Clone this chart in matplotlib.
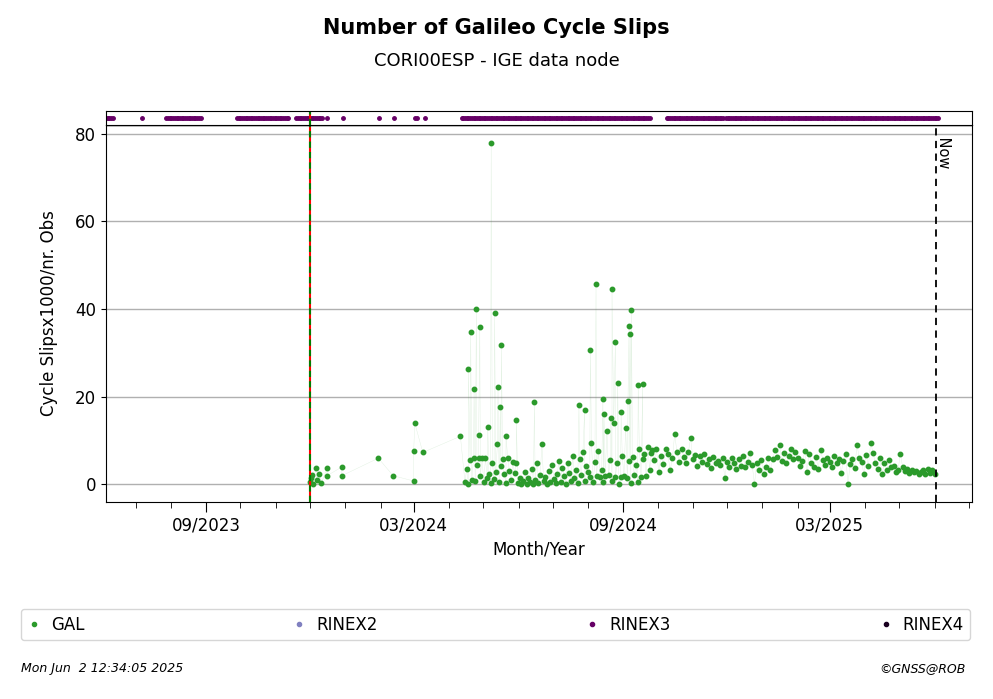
import numpy as np
import matplotlib
matplotlib.use("Agg")
import matplotlib.pyplot as plt
import matplotlib.dates as mdates
from matplotlib.lines import Line2D

start = np.datetime64("2023-12-01")
now = np.datetime64("2025-06-02")

early_days = [0, 1, 2, 3, 5, 6, 8, 10, 15, 15, 28, 28, 60, 73, 91, 91, 92, 99, 132]
early_vals = [0.5, 1.5, 2.2, 0.2, 3.8, 1.0, 2.5, 0.3, 3.7, 2.0, 4.0, 2.0, 6.0, 2.0, 0.8, 7.7, 14.0, 7.3, 11.0]

spike_days = [139, 141, 144, 146, 148, 149, 156, 159, 162, 165, 167, 168, 172, 181, 197,
              236, 241, 246, 251, 257, 258, 264, 265, 268, 270, 273, 279, 280, 281, 282, 288, 292]
spike_vals = [26.4, 34.8, 21.8, 40.0, 11.4, 35.9, 13.2, 78.0, 39.1, 22.3, 17.7, 31.8, 11.1, 14.8, 18.9,
              18.1, 17.0, 30.7, 45.7, 19.5, 16.0, 15.2, 44.5, 32.5, 23.2, 16.6, 19.0, 36.1, 34.3, 39.8, 22.6, 23.0]

base_a_vals = [0.5, 3.5, 0.2, 5.5, 1.0, 6.0, 0.8, 4.5, 6.0, 2.0, 6.0, 0.5, 6.0, 1.5, 2.5, 0.3,
               5.0, 1.2, 2.8, 9.2, 0.6, 4.2, 5.8, 2.3, 0.4, 6.0, 3.1, 1.0, 5.2, 2.6, 4.8, 0.3,
               1.5, 0.2, 0.9, 2.8, 0.1, 1.4, 0.5, 3.6, 0.2, 1.0, 5.0, 0.4, 2.2, 9.2, 0.8, 1.8,
               0.1, 3.0, 0.5, 4.4, 1.2, 0.3, 2.5, 5.4, 0.6, 3.8, 1.9, 0.2, 4.9, 2.7, 0.9, 6.6,
               1.5, 3.3, 0.4, 5.8, 2.1, 7.4, 0.8, 4.2, 2.8, 1.6, 9.4, 0.6, 5.2, 2.0, 7.6, 1.8,
               3.4, 0.5, 1.9, 12.3, 2.2, 5.5, 0.8, 14.0, 1.8, 4.8, 0.2, 1.6, 6.6, 2.0, 12.9, 1.4,
               5.4, 0.4, 6.2, 2.2, 4.4, 0.6, 8.2, 1.8, 5.8, 7.0, 2.0, 8.6, 3.4, 7.2]
base_c_vals = [7.8, 5.5, 8.0, 2.8, 6.5, 4.6, 8.2, 7.0, 3.2, 6.0, 11.5, 7.4, 5.2, 8.1, 6.2, 4.8,
               7.5, 10.5, 5.8, 6.8, 4.2, 6.4, 5.1, 7.0, 4.6, 5.9, 3.8, 6.2, 4.9, 5.4, 4.4, 6.0,
               1.5, 5.2, 4.0, 6.1, 5.0, 3.6, 5.7, 4.3, 6.4, 3.9, 5.1, 7.2, 4.5, 0.1, 4.8, 3.2,
               5.5, 2.5, 4.1, 6.0, 3.4, 5.8, 7.8, 6.2, 9.0, 5.4, 7.1, 4.8, 6.6, 8.2, 5.9, 7.4,
               6.0, 4.2, 5.3, 7.6, 2.8, 6.9, 5.0, 4.1, 6.3, 3.6, 7.9, 5.6, 4.4, 6.1, 5.2, 3.9,
               6.6, 4.8, 5.9, 2.6, 5.3, 7.0, 0.1, 4.6, 5.8, 3.8, 9.0, 6.0, 5.1, 2.4, 6.7, 4.3,
               9.5, 7.2, 5.0, 3.6, 6.1, 2.5, 4.9, 3.4, 5.6, 3.9, 4.2, 2.8, 3.3, 7.0, 4.0, 3.1,
               3.6, 2.6, 3.4, 2.9, 3.0, 2.5, 2.8, 3.3, 2.4, 3.6, 2.7, 3.2, 2.3]

rinex3_ranges = [(-179, -173), (-147, -147), (-126, -96), (-64, -19), (-12, 11), (15, 15),
                 (29, 29), (61, 61), (74, 74), (92, 93), (101, 101), (133, 298), (313, 362), (365, 551)]

base_a_days = np.arange(len(base_a_vals)) * 1.5 + 136
base_c_days = np.arange(len(base_c_vals)) * 2.0 + 300

gal_days = np.concatenate([early_days, base_a_days, spike_days, base_c_days])
gal_vals = np.concatenate([early_vals, base_a_vals, spike_vals, base_c_vals])
order = np.argsort(gal_days)
gal_days, gal_vals = gal_days[order], gal_vals[order]

def to_dt(d):
    return start + (np.asarray(d) * 24 * 3600).astype("timedelta64[s]")

gal_t = to_dt(gal_days).astype("datetime64[s]").astype(object)
r3_days = np.concatenate([np.arange(a, b + 1, 1.5) for a, b in rinex3_ranges])
r3_t = to_dt(r3_days).astype("datetime64[s]").astype(object)

fig = plt.figure(figsize=(9.93, 6.99), dpi=100)
ax = fig.add_axes([0.1067, 0.2818, 0.8723, 0.5394])
axs = fig.add_axes([0.1067, 0.8212, 0.8723, 0.0200], sharex=ax)

green = "#2b9a2b"
ax.plot(gal_t, gal_vals, color=green, lw=0.3, alpha=0.15)
ax.plot(gal_t, gal_vals, ls="none", marker="o", ms=3.2, color=green)
ax.set_ylim(-4, 82)
ax.set_yticks([0, 20, 40, 60, 80])
ax.grid(axis="y", color="#b0b0b0", lw=1)
ax.set_axisbelow(True)
ax.axhline(82, color="black", lw=1)

sd = start.astype(object)
ax.axvline(sd, color="red", lw=1.5)
ax.axvline(sd, color="green", lw=1.5, ls=(0, (3, 2)))
nd = now.astype(object)
ax.axvline(nd, color="black", lw=1.3, ls=(0, (4, 3)))
ax.text(nd, 80.5, " Now", rotation=-90, ha="left", va="top", fontsize=10.5)

ax.set_xlim(np.datetime64("2023-06-05").astype(object), np.datetime64("2025-07-04").astype(object))
ax.xaxis.set_major_locator(mdates.MonthLocator(bymonth=[3, 9]))
ax.xaxis.set_major_formatter(mdates.DateFormatter("%m/%Y"))
ax.xaxis.set_minor_locator(mdates.MonthLocator())
ax.tick_params(axis="both", labelsize=12)
ax.tick_params(axis="x", which="major", length=7)
ax.tick_params(axis="x", which="minor", length=4)
ax.set_xlabel("Month/Year", fontsize=12)
ax.set_ylabel("Cycle Slipsx1000/nr. Obs", fontsize=12, labelpad=12)

axs.plot(r3_t, np.zeros(len(r3_t)), ls="none", marker="o", ms=2.5, color="#660066")
axs.axvline(sd, color="red", lw=1.5)
axs.axvline(sd, color="green", lw=1.5, ls=(0, (3, 2)))
axs.set_ylim(-1, 1)
axs.set_yticks([])
axs.tick_params(axis="x", which="both", bottom=False, labelbottom=False)

fig.text(0.5, 0.952, "Number of Galileo Cycle Slips", ha="center", fontsize=15, fontweight="bold")
fig.text(0.5, 0.905, "CORI00ESP - IGE data node", ha="center", fontsize=13)

handles = [Line2D([], [], ls="none", marker="o", ms=3, color=green),
           Line2D([], [], ls="none", marker="o", ms=3, color="#8080c0"),
           Line2D([], [], ls="none", marker="o", ms=3, color="#660066"),
           Line2D([], [], ls="none", marker="o", ms=3, color="#1a0020")]
fig.legend(handles, ["GAL", "RINEX2", "RINEX3", "RINEX4"], ncol=4, mode="expand",
           bbox_to_anchor=(0.021, 0.084, 0.956, 0.06), loc="lower left", fontsize=12,
           handlelength=0.8, handletextpad=0.6, borderaxespad=0, fancybox=True, edgecolor="#cccccc")

fig.text(0.021, 0.038, "Mon Jun  2 12:34:05 2025", fontsize=9, style="italic")
fig.text(0.972, 0.038, "©GNSS@ROB", fontsize=9, style="italic", ha="right")

fig.savefig("out.png", dpi=100)
